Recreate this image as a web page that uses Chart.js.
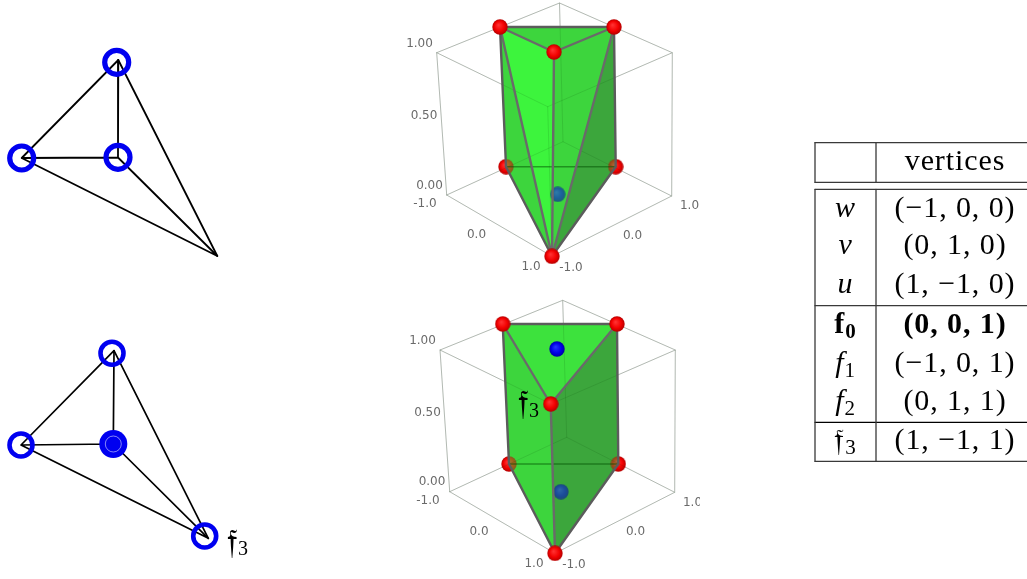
<!DOCTYPE html>
<html>
<head>
<meta charset="utf-8">
<title>Polytope diagrams</title>
<script src="https://cdn.jsdelivr.net/npm/chart.js@4"></script>
<style>
  html, body { margin: 0; padding: 0; background: #fff; }
  canvas { display: block; }
</style>
</head>
<body>
<canvas id="fig" width="1027" height="579"></canvas>
<script>
// Left graphs (x, y in figure units)
const g1Top = [118.3, 60], g1Left = [21.7, 158], g1Mid = [118, 157.5], g1Far = [217.3, 256];
const g1Rings = [[116.7, 62.3], [21.7, 158], [118, 157.3]];
const g2Top = [114, 350.7], g2Left = [21, 445], g2Mid = [113.3, 444], g2Far = [208.3, 538.3];
const g2Rings = [[112, 353.3], [21, 445], [204.7, 536]];

// Upper 3D plot
const p1Cube = { lt: [436.7, 52.7], bt: [559.5, 3], rt: [672.3, 52.7], ft: [547.7, 106.7], lb: [446.7, 195], bb: [563, 141.7], rb: [671.7, 196], fb: [552, 256.3] };
const p1TL = [500, 27], p1TR = [614, 27], p1TF = [554, 52], p1LB = [506, 166.7], p1RB = [615.7, 166.7], p1B = [552, 256.3];
const p1Blue = [557.7, 194.3];
const p1TickText = ['1.00', '0.50', '0.00', '-1.0', '0.0', '0.0', '1.0', '1.0', '-1.0'];
const p1TickX = [419.5, 424, 429.5, 425, 476.5, 632.5, 689.5, 531, 571];
const p1TickY = [44, 115.7, 185.7, 204, 235, 235.7, 205.7, 267, 268];

// Lower 3D plot
const p2Cube = { lt: [440, 350], bt: [562.7, 300.3], rt: [675.3, 350], ft: [551, 404], lb: [449.7, 491.7], bb: [566.7, 437.3], rb: [674.7, 492.3], fb: [555, 553.3] };
const p2TL = [502.7, 324], p2TR = [617, 324], p2TF = [550.7, 404], p2LB = [509, 464], p2RB = [618.3, 464], p2B = [555, 553.3];
const p2BlueTop = [557, 349], p2BlueLow = [561, 491.7];
const p2TickText = ['1.00', '0.50', '0.00', '-1.0', '0.0', '0.0', '1.0', '1.0', '-1.0'];
const p2TickX = [422.5, 427.5, 432, 428, 479, 635.5, 692.5, 534, 574];
const p2TickY = [340.7, 413, 482.3, 501.3, 532, 532.3, 503, 564.3, 564.7];

// Table
const rowNames = ['w', 'v', 'u', 'f', 'f', 'f', '𝔣'];
const rowSubs = ['', '', '', '0', '1', '2', '3'];
const rowVertices = ['(−1, 0, 0)', '(0, 1, 0)', '(1, −1, 0)', '(0, 0, 1)', '(−1, 0, 1)', '(0, 1, 1)', '(1, −1, 1)'];
const rowBaselines = [217.3, 254, 293.3, 333, 372, 410, 449];
const tableRules = [142.7, 182.3, 189.3, 305.7, 422.3, 461.3];

const FACE_LIGHT = '#3df43d', FACE_MID = '#3dd53d', FACE_DARK = '#3ca73c';
const EDGE = '#6a6a6a', WIRE = '#cccccc', GRID_THROUGH = 'rgba(0,60,0,0.12)';
const SERIF = '"Liberation Serif", serif';
const TICK_FONT = '12px "DejaVu Sans", sans-serif';

function sphere(light, mid, dark) {
  const c = document.createElement('canvas');
  c.width = c.height = 16;
  const x = c.getContext('2d');
  const g = x.createRadialGradient(6.5, 6, 0.5, 8, 8, 8);
  g.addColorStop(0, light);
  g.addColorStop(0.6, mid);
  g.addColorStop(1, dark);
  x.fillStyle = g;
  x.beginPath();
  x.arc(8, 8, 7.7, 0, Math.PI * 2);
  x.fill();
  return c;
}
const redBall = sphere('#ff3030', '#f20000', '#b00000');
const blueBall = sphere('#2030ff', '#0000e8', '#0000a0');

const pt = p => ({ x: p[0], y: p[1] });
const datasets = [];

function line(points, color, width) {
  datasets.push({ data: points.map(pt), showLine: true, borderColor: color, borderWidth: width, pointRadius: 0, borderCapStyle: 'round', borderJoinStyle: 'round' });
}
function face(points, color) {
  datasets.push({ data: points.map(pt), showLine: true, fill: 'shape', backgroundColor: color, borderColor: 'transparent', borderWidth: 0, pointRadius: 0 });
}
function balls(points, image) {
  datasets.push({ data: points.map(pt), showLine: false, pointStyle: image });
}
function rings(points, radius, width) {
  datasets.push({ data: points.map(pt), showLine: false, pointStyle: 'circle', pointRadius: radius, pointBorderWidth: width, pointBorderColor: '#0000f0', pointBackgroundColor: 'transparent' });
}
function wire(c, color) {
  line([c.lt, c.bt, c.rt, c.ft, c.lt], color, 1);
  line([c.lb, c.bb, c.rb, c.fb, c.lb], color, 1);
  line([c.lt, c.lb], color, 1);
  line([c.rt, c.rb], color, 1);
  line([c.bt, c.bb], color, 1);
  line([c.ft, c.fb], color, 1);
}
const alpha = hex => hex + '73';

// left graphs
line([g1Left, g1Top, g1Mid, g1Left, g1Far, g1Mid], '#000', 1.8);
line([g1Top, g1Far], '#000', 1.8);
rings(g1Rings, 12, 5.2);

line([g2Left, g2Top, g2Mid, g2Left, g2Far, g2Mid], '#000', 1.7);
line([g2Top, g2Far], '#000', 1.7);
rings(g2Rings, 11.5, 4.6);
datasets.push({ data: [pt(g2Mid)], showLine: false, pointRadius: 14, pointBackgroundColor: '#0000f0', pointBorderWidth: 0 });
datasets.push({ data: [pt(g2Mid)], showLine: false, pointRadius: 8, pointBackgroundColor: 'transparent', pointBorderColor: 'rgba(255,255,255,0.65)', pointBorderWidth: 0.8 });

// upper 3D plot
wire(p1Cube, WIRE);
const p1Faces = [
  [[p1TL, p1TR, p1TF], FACE_MID],
  [[p1TL, p1LB, p1B], FACE_MID],
  [[p1TL, p1TF, p1B], FACE_LIGHT],
  [[p1TF, p1TR, p1B], FACE_MID],
  [[p1TR, p1RB, p1B], FACE_DARK]
];
p1Faces.forEach(f => face(f[0], f[1]));
balls([p1LB, p1RB], redBall);
balls([p1Blue], blueBall);
p1Faces.forEach(f => face(f[0], alpha(f[1])));
wire(p1Cube, GRID_THROUGH);
line([p1LB, p1RB], 'rgba(0,80,0,0.5)', 1.5);
line([p1TL, p1B], EDGE, 2.4);
line([p1TF, p1B], EDGE, 2.4);
line([p1TR, p1B], EDGE, 2.4);
line([p1TL, p1TF, p1TR], EDGE, 2.4);
line([p1TL, p1TR, p1RB, p1B, p1LB, p1TL], '#5c5c5c', 2.4);
balls([p1TL, p1TR, p1TF, p1B], redBall);

// lower 3D plot
wire(p2Cube, WIRE);
const p2Faces = [
  [[p2TL, p2TR, p2TF], '#3de23d'],
  [[p2TL, p2TF, p2B, p2LB], FACE_MID],
  [[p2TF, p2TR, p2RB, p2B], FACE_DARK]
];
p2Faces.forEach(f => face(f[0], f[1]));
balls([p2LB, p2RB], redBall);
balls([p2BlueLow], blueBall);
p2Faces.forEach(f => face(f[0], alpha(f[1])));
wire(p2Cube, GRID_THROUGH);
line([p2LB, p2RB], 'rgba(0,80,0,0.5)', 1.5);
line([p2TL, p2TF, p2TR], EDGE, 2.4);
line([p2TF, p2B], EDGE, 2.4);
line([p2TL, p2TR, p2RB, p2B, p2LB, p2TL], '#5c5c5c', 2.4);
balls([p2TL, p2TR, p2TF, p2B], redBall);
balls([p2BlueTop], blueBall);

// table rules
tableRules.forEach((y, i) => line([[815, y], [1027, y]], i === 4 ? '#000' : '#3a3a3a', 1.3));
line([[815, 142.7], [815, 182.3]], '#3a3a3a', 1.3);
line([[876, 142.7], [876, 182.3]], '#3a3a3a', 1.3);
line([[815, 189.3], [815, 461.3]], '#3a3a3a', 1.3);
line([[876, 189.3], [876, 461.3]], '#3a3a3a', 1.3);

datasets.forEach((d, i) => { d.order = -i; d.clip = false; });

const textLayer = {
  id: 'textLayer',
  afterDatasetsDraw(chart) {
    const { ctx, scales: { x, y } } = chart;
    const put = (s, px, py, font, align) => {
      ctx.font = font;
      ctx.textAlign = align || 'center';
      ctx.fillText(s, x.getPixelForValue(px), y.getPixelForValue(py));
    };
    ctx.save();

    // tick labels
    ctx.fillStyle = '#6a6a6a';
    ctx.textBaseline = 'middle';
    p1TickText.forEach((s, i) => put(s, p1TickX[i], p1TickY[i], TICK_FONT));
    p2TickText.forEach((s, i) => {
      ctx.save();
      ctx.beginPath();
      ctx.rect(0, 0, 700, 579); // the lower plot's picture is cut off here
      ctx.clip();
      put(s, p2TickX[i], p2TickY[i], TICK_FONT);
      ctx.restore();
    });

    // math text
    ctx.fillStyle = '#000';
    ctx.textBaseline = 'alphabetic';
    put('𝔣', 226.5, 553, '35px ' + SERIF, 'left');
    put('3', 238, 555, '20px ' + SERIF, 'left');
    put('𝔣', 517.5, 414, '35px ' + SERIF, 'left');
    put('3', 529, 416.7, '20px ' + SERIF, 'left');

    ctx.letterSpacing = '0.9px';
    put('vertices', 955, 170, '30px ' + SERIF);
    rowNames.forEach((name, i) => {
      const bold = i === 3;
      const size = i === 6 ? '33px ' : '30px ';
      const nameFont = (bold ? 'bold ' : i === 6 ? '' : 'italic ') + size + SERIF;
      const subFont = (bold ? 'bold ' : '') + '21px ' + SERIF;
      ctx.font = nameFont;
      const w1 = ctx.measureText(name).width;
      ctx.font = subFont;
      const w2 = ctx.measureText(rowSubs[i]).width;
      const left = 845.5 - (w1 + w2) / 2;
      put(name, left, rowBaselines[i] + (i === 6 ? 2 : 0), nameFont, 'left');
      put(rowSubs[i], left + w1, rowBaselines[i] + 5, subFont, 'left');
      put(rowVertices[i], 955, rowBaselines[i], (bold ? 'bold ' : '') + '30px ' + SERIF);
    });
    ctx.restore();
  }
};

new Chart(document.getElementById('fig').getContext('2d'), {
  type: 'scatter',
  data: { datasets },
  options: {
    responsive: false,
    animation: false,
    events: [],
    layout: { padding: 0, autoPadding: false },
    plugins: { legend: { display: false }, tooltip: { enabled: false } },
    scales: {
      x: { type: 'linear', min: 0, max: 1027, display: false },
      y: { type: 'linear', min: 0, max: 579, reverse: true, display: false }
    }
  },
  plugins: [textLayer]
});
</script>
</body>
</html>
